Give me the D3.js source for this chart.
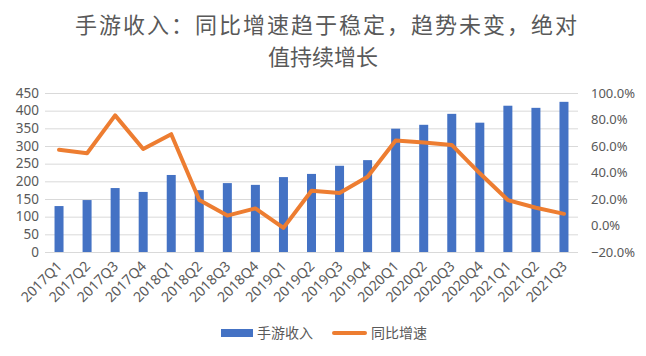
<!DOCTYPE html>
<html><head><meta charset="utf-8">
<script src="https://cdn.jsdelivr.net/npm/d3@7"></script>
<style>body{margin:0;background:#fff;} svg{display:block;font-family:"Noto Sans CJK SC","Microsoft YaHei",sans-serif;}</style>
</head><body><svg id="c" width="646" height="356"></svg>
<script>
const categories = ["2017Q1","2017Q2","2017Q3","2017Q4","2018Q1","2018Q2","2018Q3","2018Q4","2019Q1","2019Q2","2019Q3","2019Q4","2020Q1","2020Q2","2020Q3","2020Q4","2021Q1","2021Q2","2021Q3"];
const revenue = [130,147,181,170,218,175,195,190,212,221,244,260,349,360,391,366,414,408,425];
const growth = [57.1,54.5,83.1,57.8,68.9,19.2,7.5,12.9,-1.8,26.2,24.5,36.8,64.1,62.6,60.8,39.4,19.2,13.4,8.8];
const leftTicks = [0,50,100,150,200,250,300,350,400,450];
const rightTicks = [-20,0,20,40,60,80,100];
const titleLines = ["手游收入：同比增速趋于稳定，趋势未变，绝对","值持续增长"];
const legendLabels = ["手游收入","同比增速"];

const svg = d3.select("#c");
const L=45, R=578, T=93, B=252;
const x = d3.scaleBand().domain(categories).range([L,R]);
const yL = d3.scaleLinear().domain([0,450]).range([B,T]);
const yR = d3.scaleLinear().domain([-20,100]).range([B,T]);
const txt = "#595959";

svg.selectAll(".title").data(titleLines).enter().append("text")
  .attr("x",(d,i)=>i===0?327:323).attr("y",(d,i)=>33+i*32).attr("text-anchor","middle")
  .attr("font-size",22).attr("letter-spacing",(d,i)=>i===0?"2px":"0px")
  .attr("fill",txt).text(d=>d);

svg.append("g").selectAll("line").data(leftTicks).enter().append("line")
  .attr("x1",L).attr("x2",R).attr("y1",d=>yL(d)+0.5).attr("y2",d=>yL(d)+0.5)
  .attr("stroke","#d9d9d9").attr("stroke-width",1);

const gl = svg.append("g").attr("transform",`translate(${L},0)`)
  .call(d3.axisLeft(yL).tickValues(leftTicks).tickSize(0).tickPadding(6));
gl.select(".domain").remove();
gl.selectAll("text").attr("font-size",13.5).attr("fill",txt).attr("font-family","Noto Sans, sans-serif");

const gr = svg.append("g").attr("transform",`translate(${R},0)`)
  .call(d3.axisRight(yR).tickValues(rightTicks).tickSize(0).tickPadding(13).tickFormat(d=>d3.format(".1f")(d)+"%"));
gr.select(".domain").remove();
gr.selectAll("text").attr("font-size",13).attr("fill",txt).attr("font-family","Noto Sans, sans-serif");

const bw = 9;
svg.append("g").selectAll("rect").data(revenue).enter().append("rect")
  .attr("x",(d,i)=>x(categories[i])+x.bandwidth()/2-bw/2)
  .attr("width",bw).attr("y",d=>yL(d)).attr("height",d=>B-yL(d)).attr("fill","#4472c4");

svg.append("path").datum(growth)
  .attr("d",d3.line().x((d,i)=>x(categories[i])+x.bandwidth()/2).y(d=>yR(d)))
  .attr("fill","none").attr("stroke","#ed7d31").attr("stroke-width",4).attr("stroke-linejoin","round").attr("stroke-linecap","round");

const gx = svg.append("g").attr("transform",`translate(0,${B})`)
  .call(d3.axisBottom(x).tickSize(0));
gx.select(".domain").remove();
gx.selectAll("text").attr("font-size",14).attr("fill",txt).attr("font-family","Noto Sans, sans-serif")
  .attr("text-anchor","end").attr("dy",0).attr("dx",0).attr("y",0)
  .attr("transform","translate(4,15) rotate(-45)");

const lg = svg.append("g");
lg.append("rect").attr("x",221).attr("y",329).attr("width",32).attr("height",8).attr("fill","#4472c4");
lg.append("text").attr("x",257).attr("y",338).attr("font-size",14).attr("fill",txt).text(legendLabels[0]);
lg.append("line").attr("x1",334).attr("x2",365).attr("y1",333).attr("y2",333).attr("stroke","#ed7d31").attr("stroke-width",4).attr("stroke-linecap","round");
lg.append("text").attr("x",371).attr("y",338).attr("font-size",14).attr("fill",txt).text(legendLabels[1]);
</script></body></html>
